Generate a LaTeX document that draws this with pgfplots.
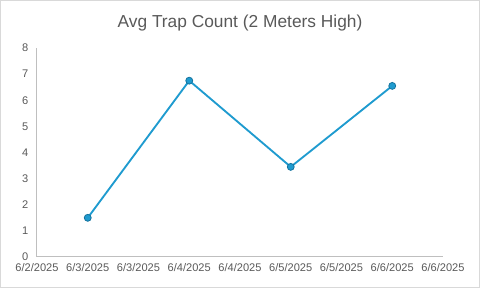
\documentclass[border=0pt]{standalone}
\usepackage{fontspec}
\setmainfont{Liberation Sans}
\usepackage{pgfplots}
\pgfplotsset{compat=1.18}
\definecolor{txt}{HTML}{595959}
\definecolor{axln}{HTML}{BFBFBF}
\definecolor{ser}{HTML}{1F9BCF}
\definecolor{serdk}{HTML}{15739E}
\begin{document}
\begin{tikzpicture}
\useasboundingbox (-27.75pt,-23.25pt) rectangle (332.25pt,192.75pt);
\draw[draw=black!15, line width=0.75pt] (-27.4pt,-22.9pt) rectangle (331.9pt,192.4pt);
\begin{axis}[
  at={(0,0)}, anchor=origin,
  scale only axis, width=304.5pt, height=156.75pt,
  xmin=2.5, xmax=6.5, ymin=0, ymax=8,
  xtick={2.5,3,3.5,4,4.5,5,5.5,6,6.5},
  xticklabels={6/2/2025,6/3/2025,6/3/2025,6/4/2025,6/4/2025,6/5/2025,6/5/2025,6/6/2025,6/6/2025},
  ytick={0,1,...,8},
  axis x line*=bottom, axis y line*=left,
  axis line style={draw=axln, line width=0.75pt, -},
  tick style={draw=none},
  ticklabel style={font=\fontsize{8.3pt}{10pt}\selectfont, text=txt},
  /pgf/number format/assume math mode=true,
  xticklabel style={yshift=-1.5pt},
  yticklabel style={xshift=-3pt},
  clip=false,
]
\addplot[color=ser, line width=1.4pt, mark=*, mark size=2.6pt,
  mark options={fill=ser, draw=serdk, line width=0.6pt}]
  coordinates {(3,1.5) (4,6.75) (5,3.45) (6,6.55)};
\end{axis}
\node[text=txt, font=\fontsize{13pt}{15pt}\selectfont] at (152.25pt,175.5pt) {Avg Trap Count (2 Meters High)};
\end{tikzpicture}
\end{document}
